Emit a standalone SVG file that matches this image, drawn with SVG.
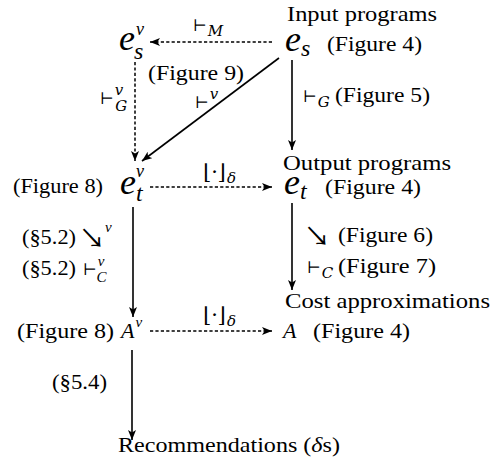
<svg xmlns="http://www.w3.org/2000/svg" width="499" height="463" viewBox="0 0 499 463">
<style>
text{font-family:"Liberation Serif","Times New Roman","DejaVu Serif",serif;fill:#000}
.t{font-size:22px}
.op{font-size:16px;font-family:"DejaVu Serif","Liberation Serif",serif}
.fl{font-size:21px;font-family:"DejaVu Serif","Liberation Serif",serif}
.arr{font-size:26px;font-family:"Noto Sans CJK JP","Noto Sans CJK SC","DejaVu Sans",sans-serif}
.big{font-size:36px;font-style:italic}
.sub{font-size:24px;font-style:italic}
.sup{font-size:18px;font-style:italic}
.sm{font-size:15px;font-style:italic}
.solid{stroke:#000;stroke-width:1.6;fill:none}
.dash{stroke:#000;stroke-width:1.5;fill:none;stroke-dasharray:3.2 2.2}
</style>
<defs>
<marker id="ah" markerWidth="12" markerHeight="10" refX="10" refY="4" orient="auto" markerUnits="userSpaceOnUse">
<path d="M0,0 L10,4 L0,8 L2.5,4 z" fill="#000"/>
</marker>
</defs>
<rect width="499" height="463" fill="#fff"/>

<g id="connectors">
<path class="dash" d="M272,42 L150,42" marker-end="url(#ah)"/>
<path class="dash" d="M135,62 L135,161" marker-end="url(#ah)"/>
<path class="solid" d="M279,58 L142,161" marker-end="url(#ah)"/>
<path class="solid" d="M292,60 L292,150" marker-end="url(#ah)"/>
<path class="dash" d="M150,187 L272,187" marker-end="url(#ah)"/>
<path class="solid" d="M133,207 L133,317" marker-end="url(#ah)"/>
<path class="solid" d="M292,203 L292,290" marker-end="url(#ah)"/>
<path class="dash" d="M150,331 L272,331" marker-end="url(#ah)"/>
<path class="solid" d="M132,350 L132,440" marker-end="url(#ah)"/>
</g>

<g id="labels">
<g id="lbl-M"><text class="op" x="193" y="31">⊢<tspan class="sm" dx="1" dy="5">M</tspan></text></g>
<g id="lbl-fig9"><text class="t" x="148" y="80" textLength="96" lengthAdjust="spacingAndGlyphs">(Figure 9)</text></g>
<g id="lbl-v"><text class="op" x="195" y="108">⊢<tspan class="sm" dx="1" dy="-9">v</tspan></text></g>
<g id="lbl-Gv"><text class="op" x="100" y="104">⊢<tspan class="sm" dx="1" dy="-9">v</tspan><tspan class="sm" dx="-8" dy="16">G</tspan></text></g>
<g id="lbl-G"><text class="op" x="303" y="102">⊢<tspan class="sm" dx="1" dy="5">G</tspan></text><text class="t" x="335" y="102" textLength="95" lengthAdjust="spacingAndGlyphs">(Figure 5)</text></g>
<g id="lbl-delta1"><text class="fl" x="203" y="179">⌊·⌋<tspan class="sm" dx="1" dy="4">δ</tspan></text></g>
<g id="lbl-52a"><text class="t" x="22" y="244"><tspan textLength="54" lengthAdjust="spacingAndGlyphs">(§5.2)</tspan><tspan class="arr" x="79" y="248">↘</tspan><tspan class="sm" dx="0" dy="-16">v</tspan></text></g>
<g id="lbl-52b"><text class="t" x="22" y="275"><tspan textLength="54" lengthAdjust="spacingAndGlyphs">(§5.2)</tspan><tspan class="op" x="83" y="275">⊢</tspan><tspan class="sm" dx="1" dy="-9">v</tspan><tspan class="sm" dx="-8" dy="16">C</tspan></text></g>
<g id="lbl-fig6"><text class="arr" x="304" y="246">↘</text><text class="t" x="338" y="242" textLength="95" lengthAdjust="spacingAndGlyphs">(Figure 6)</text></g>
<g id="lbl-fig7"><text class="op" x="307" y="273">⊢<tspan class="sm" dx="1" dy="5">C</tspan></text><text class="t" x="338" y="273" textLength="98" lengthAdjust="spacingAndGlyphs">(Figure 7)</text></g>
<g id="lbl-delta2"><text class="fl" x="203" y="322">⌊·⌋<tspan class="sm" dx="1" dy="4">δ</tspan></text></g>
<g id="lbl-54"><text class="t" x="52" y="389" textLength="55" lengthAdjust="spacingAndGlyphs">(§5.4)</text></g>
</g>

<g id="node-es">
<text class="t" x="287" y="21" textLength="150" lengthAdjust="spacingAndGlyphs">Input programs</text>
<text class="big" x="285" y="51">e<tspan class="sub" dx="0" dy="5">s</tspan></text>
<text class="t" x="327" y="51" textLength="95" lengthAdjust="spacingAndGlyphs">(Figure 4)</text>
</g>
<g id="node-esv">
<text class="big" x="119" y="50">e<tspan class="sup" dx="1" dy="-15">v</tspan><tspan class="sub" dx="-10" dy="24">s</tspan></text>
</g>
<g id="node-etv">
<text class="t" x="13" y="193" textLength="90" lengthAdjust="spacingAndGlyphs">(Figure 8)</text>
<text class="big" x="120" y="194">e<tspan class="sup" dx="0" dy="-17">v</tspan><tspan class="sub" dx="-8" dy="24">t</tspan></text>
</g>
<g id="node-et">
<text class="t" x="283" y="170" textLength="168" lengthAdjust="spacingAndGlyphs">Output programs</text>
<text class="big" x="284" y="194">e<tspan class="sub" dx="0" dy="5">t</tspan></text>
<text class="t" x="325" y="194" textLength="96" lengthAdjust="spacingAndGlyphs">(Figure 4)</text>
</g>
<g id="node-Av">
<text class="t" x="17" y="338" textLength="97" lengthAdjust="spacingAndGlyphs">(Figure 8)</text>
<text class="t" x="121" y="338" font-style="italic">A<tspan class="sm" dx="1" dy="-11">v</tspan></text>
</g>
<g id="node-A">
<text class="t" x="285" y="308" textLength="205" lengthAdjust="spacingAndGlyphs">Cost approximations</text>
<text class="t" x="283" y="338" font-style="italic">A</text>
<text class="t" x="313" y="338" textLength="97" lengthAdjust="spacingAndGlyphs">(Figure 4)</text>
</g>
<g id="node-rec">
<text class="t" x="118" y="452" textLength="222" lengthAdjust="spacingAndGlyphs">Recommendations (<tspan font-style="italic">δ</tspan>s)</text>
</g>
</svg>
